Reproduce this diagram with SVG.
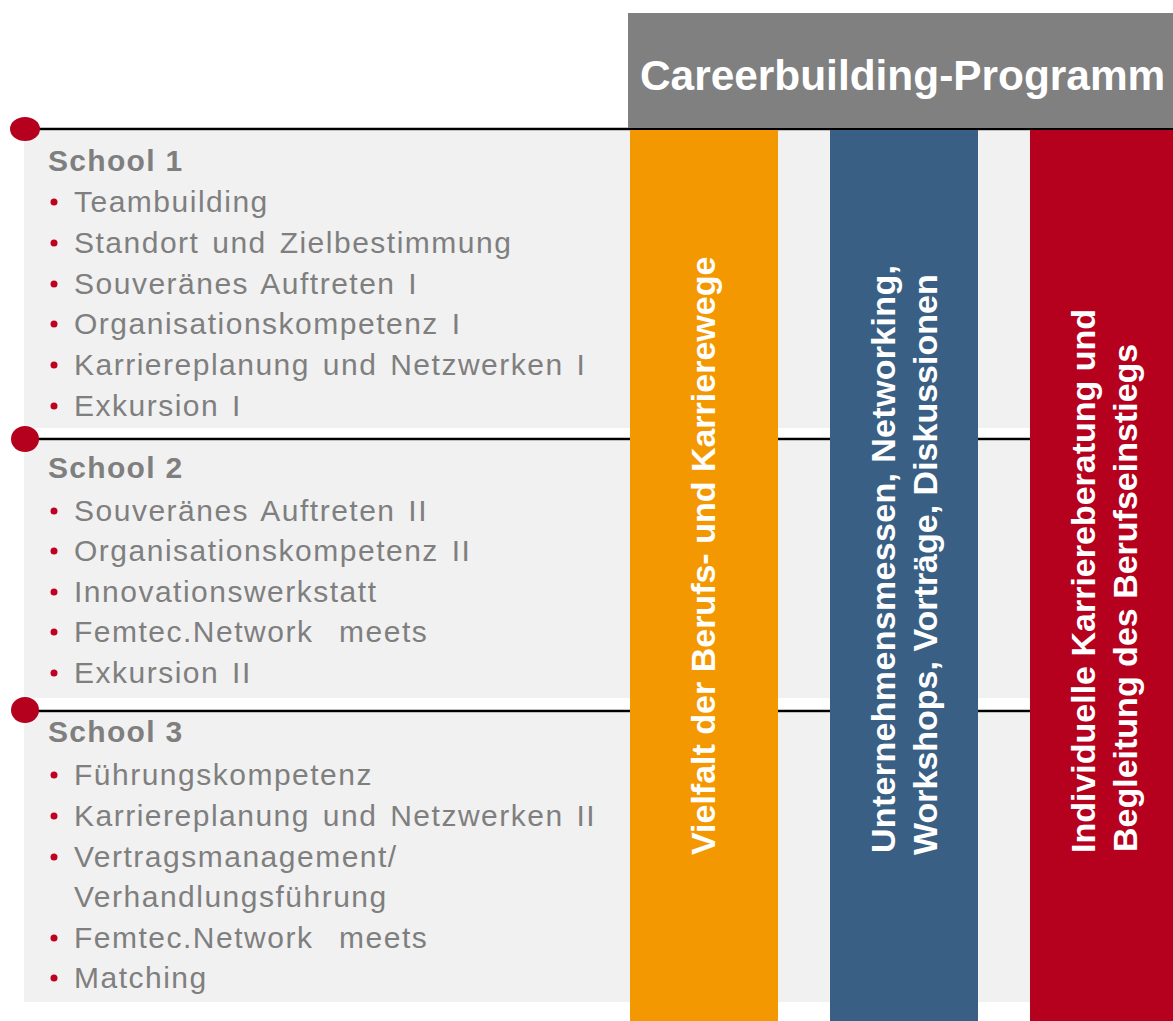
<svg xmlns="http://www.w3.org/2000/svg" width="1173" height="1021" viewBox="0 0 1173 1021">
<style>
.panel{fill:#f1f1f1}
.sep{stroke:#000;stroke-width:2.5}
.dot{fill:#b5001e}
.hd{font-family:"Liberation Sans",Arial,sans-serif;font-weight:bold;font-size:30px;fill:#7f7f7f;letter-spacing:1.3px}
.it{font-family:"Liberation Sans",Arial,sans-serif;font-size:30px;fill:#7f7f7f;letter-spacing:1.5px;word-spacing:3px;white-space:pre}
.bl{fill:#c00020}
.vt{font-family:"Liberation Sans",Arial,sans-serif;font-weight:bold;font-size:34px;fill:#fff}
</style>
<rect width="1173" height="1021" fill="#fff"/>
<g id="panels">
<rect class="panel" x="24" y="131" width="1149" height="297"/>
<rect class="panel" x="24" y="441" width="1149" height="257"/>
<rect class="panel" x="24" y="713" width="1149" height="289"/>
</g>
<g id="connectors">
<line class="sep" x1="25" y1="129" x2="1173" y2="129"/>
<line class="sep" x1="25" y1="439" x2="1173" y2="439"/>
<line class="sep" x1="25" y1="711" x2="1173" y2="711"/>
</g>
<g id="header">
<rect x="628" y="13" width="545" height="115" fill="#808080"/>
<text x="640" y="90" font-family="'Liberation Sans',Arial,sans-serif" font-weight="bold" font-size="42.4" fill="#fff">Careerbuilding-Programm</text>
</g>
<g id="bar-orange">
<rect x="630" y="130" width="148" height="891" fill="#f39800"/>
<text class="vt" transform="translate(715,855) rotate(-90)">Vielfalt der Berufs- und Karrierewege</text>
</g>
<g id="bar-blue">
<rect x="830" y="130" width="148" height="891" fill="#3a5f84"/>
<text class="vt" transform="translate(895,853) rotate(-90)" textLength="588" lengthAdjust="spacing">Unternehmensmessen, Networking,</text>
<text class="vt" transform="translate(937,855) rotate(-90)">Workshops, Vorträge, Diskussionen</text>
</g>
<g id="bar-red">
<rect x="1030" y="130" width="143" height="891" fill="#b5001e"/>
<text class="vt" transform="translate(1095,853) rotate(-90)">Individuelle Karriereberatung und</text>
<text class="vt" transform="translate(1137,852) rotate(-90)">Begleitung des Berufseinstiegs</text>
</g>
<g id="school1">
<ellipse class="dot" cx="25" cy="129" rx="15" ry="12"/>
<text class="hd" x="48" y="171">School 1</text>
<circle class="bl" cx="54" cy="202" r="3.5"/><text class="it" x="74" y="212">Teambuilding</text>
<circle class="bl" cx="54" cy="243" r="3.5"/><text class="it" x="74" y="253">Standort und Zielbestimmung</text>
<circle class="bl" cx="54" cy="284" r="3.5"/><text class="it" x="74" y="294">Souveränes Auftreten I</text>
<circle class="bl" cx="54" cy="324" r="3.5"/><text class="it" x="74" y="334">Organisationskompetenz I</text>
<circle class="bl" cx="54" cy="365" r="3.5"/><text class="it" x="74" y="375">Karriereplanung und Netzwerken I</text>
<circle class="bl" cx="54" cy="406" r="3.5"/><text class="it" x="74" y="416">Exkursion I</text>
</g>
<g id="school2">
<ellipse class="dot" cx="25" cy="439" rx="14" ry="13"/>
<text class="hd" x="48" y="478">School 2</text>
<circle class="bl" cx="54" cy="511" r="3.5"/><text class="it" x="74" y="521">Souveränes Auftreten II</text>
<circle class="bl" cx="54" cy="551" r="3.5"/><text class="it" x="74" y="561">Organisationskompetenz II</text>
<circle class="bl" cx="54" cy="592" r="3.5"/><text class="it" x="74" y="602">Innovationswerkstatt</text>
<circle class="bl" cx="54" cy="632" r="3.5"/><text class="it" x="74" y="642">Femtec.Network  meets</text>
<circle class="bl" cx="54" cy="673" r="3.5"/><text class="it" x="74" y="683">Exkursion II</text>
</g>
<g id="school3">
<ellipse class="dot" cx="25" cy="710" rx="14" ry="13"/>
<text class="hd" x="48" y="742">School 3</text>
<circle class="bl" cx="54" cy="775" r="3.5"/><text class="it" x="74" y="785">Führungskompetenz</text>
<circle class="bl" cx="54" cy="816" r="3.5"/><text class="it" x="74" y="826">Karriereplanung und Netzwerken II</text>
<circle class="bl" cx="54" cy="857" r="3.5"/><text class="it" x="74" y="867">Vertragsmanagement/</text>
<text class="it" x="74" y="907">Verhandlungsführung</text>
<circle class="bl" cx="54" cy="938" r="3.5"/><text class="it" x="74" y="948">Femtec.Network  meets</text>
<circle class="bl" cx="54" cy="978" r="3.5"/><text class="it" x="74" y="988">Matching</text>
</g>
</svg>
